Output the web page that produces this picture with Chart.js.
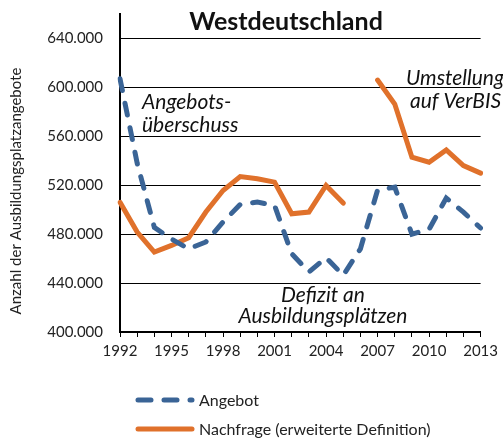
<!DOCTYPE html>
<html>
<head>
<meta charset="utf-8">
<script src="https://cdn.jsdelivr.net/npm/chart.js@4.4.0/dist/chart.umd.min.js"></script>
<style>
  body { margin: 0; background: #fff; }
  canvas { display: block; }
</style>
</head>
<body>
<canvas id="chart" width="503" height="438"></canvas>
<script>
const years = ['1992', '1993', '1994', '1995', '1996', '1997', '1998', '1999', '2000', '2001', '2002',
  '2003', '2004', '2005', '2006', '2007', '2008', '2009', '2010', '2011', '2012', '2013'];

const angebot = [607000, 538000, 485500, 476000, 468000, 473600, 489900, 504300, 506200, 503500, 464000,
  449100, 460800, 446400, 468000, 516000, 518400, 480000, 484000, 509500, 498000, 485000];

const nachfrage = [506000, 481700, 465400, 470800, 477100, 498100, 515700, 527100, 525300, 522500, 496700,
  498100, 519800, 505400, null, 606000, 586400, 542900, 538800, 548900, 536100, 529900];

const yTicks = [400000, 440000, 480000, 520000, 560000, 600000, 640000];

const FONT = 'Lato, "Open Sans", sans-serif';

// title, notes, axis title and the two-row legend drawn on top
const overlay = {
  id: 'overlay',
  afterDatasetsDraw(chart) {
    const ctx = chart.ctx;
    ctx.save();
    ctx.fillStyle = '#111';
    ctx.textBaseline = 'alphabetic';

    ctx.font = 'bold 25px ' + FONT;
    ctx.textAlign = 'center';
    ctx.fillText('Westdeutschland', 286, 30);

    ctx.font = 'italic 21px ' + FONT;
    ctx.textAlign = 'left';
    ctx.fillText('Angebots-', 142, 109);
    ctx.fillText('überschuss', 142, 132);
    ctx.fillText('Umstellung', 406, 85);
    ctx.fillText('auf VerBIS', 410, 108);
    ctx.textAlign = 'center';
    ctx.fillText('Defizit an', 323, 302);
    ctx.fillText('Ausbildungsplätzen', 323, 323);

    // y axis title
    ctx.save();
    ctx.translate(16, 191);
    ctx.rotate(-Math.PI / 2);
    ctx.font = '15px ' + FONT;
    ctx.fillStyle = '#222';
    ctx.textBaseline = 'middle';
    ctx.fillText('Anzahl der Ausbildungsplatzangebote', 0, 0);
    ctx.restore();

    // legend
    const rows = [400, 429];
    chart.data.datasets.forEach((ds, i) => {
      const y = rows[i];
      ctx.beginPath();
      ctx.strokeStyle = ds.borderColor;
      ctx.lineWidth = ds.borderWidth;
      ctx.lineCap = 'round';
      ctx.setLineDash(ds.borderDash ? [13, 13] : []);
      ctx.moveTo(138, y);
      ctx.lineTo(192, y);
      ctx.stroke();
      ctx.setLineDash([]);
      ctx.fillStyle = '#222';
      ctx.font = '16px ' + FONT;
      ctx.textAlign = 'left';
      ctx.textBaseline = 'middle';
      ctx.fillText(ds.label, 199, y + 1);
    });
    ctx.restore();
  }
};

new Chart(document.getElementById('chart'), {
  type: 'line',
  data: {
    labels: years,
    datasets: [
      {
        label: 'Angebot',
        data: angebot,
        borderColor: '#3A6496',
        borderWidth: 5,
        borderDash: [12, 13],
        borderCapStyle: 'round',
        pointRadius: 0,
        tension: 0,
        fill: false
      },
      {
        label: 'Nachfrage (erweiterte Definition)',
        data: nachfrage,
        borderColor: '#E0712B',
        borderWidth: 5,
        borderCapStyle: 'round',
        borderJoinStyle: 'miter',
        pointRadius: 0,
        tension: 0,
        spanGaps: false,
        fill: false
      }
    ]
  },
  options: {
    responsive: false,
    animation: false,
    layout: { padding: { top: 14, right: 17, left: 0, bottom: 0 } },
    plugins: {
      legend: { display: false },
      tooltip: { enabled: false }
    },
    scales: {
      x: {
        type: 'category',
        offset: false,
        afterFit: s => { s.height = 106; },
        border: { color: '#000', width: 2 },
        grid: { drawOnChartArea: false, drawTicks: true, tickLength: 5, color: '#000', lineWidth: 1 },
        ticks: {
          autoSkip: false,
          maxRotation: 0,
          padding: 5,
          color: '#222',
          font: { family: FONT, size: 15 },
          callback: (v, i) => (i % 3 === 0 ? years[i] : '')
        }
      },
      y: {
        min: 400000,
        max: 660000,
        afterFit: s => { s.width = 120; s.paddingTop = 0; s.paddingBottom = 0; },
        afterBuildTicks: s => { s.ticks = yTicks.map(v => ({ value: v })); },
        border: { color: '#000', width: 2 },
        grid: { drawTicks: false, color: '#000', lineWidth: 1 },
        ticks: {
          padding: 17,
          color: '#222',
          font: { family: FONT, size: 15 },
          callback: v => (v / 1000) + '.000'
        }
      }
    }
  },
  plugins: [overlay]
});
</script>
</body>
</html>
